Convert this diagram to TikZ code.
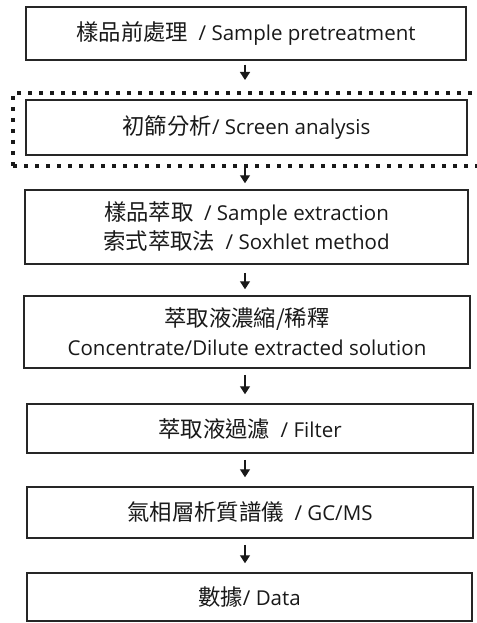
\documentclass[tikz,border=0pt]{standalone}
\usepackage{fontspec}
\setmainfont{Open Sans}
\newfontfamily\cjk[Scale=1.09]{Noto Sans CJK TC}
\usetikzlibrary{arrows.meta,calc}
\begin{document}
\begin{tikzpicture}[x=1pt,y=1pt,
  stepbox/.style={draw=black!85, line width=1.5pt, inner sep=0pt, align=center,
     font=\fontsize{20.5}{29}\selectfont, text=black!90},
  frame/.style={draw=black!90, line width=4pt, dash pattern=on 4pt off 7pt, inner sep=0pt},
  arr/.style={line width=1.4pt, draw=black!90, -{Triangle[width=10pt,length=8pt]}}]
\useasboundingbox (0,0) rectangle (476,-623);
\fill[white] (0,0) rectangle (476,-623);
\coordinate (ax) at (245,0);
\node[stepbox, minimum width=440, minimum height=53] (b1) at (246,-33.5)
  {{\cjk 樣品前處理}\ \ / Sample pretreatment};
\node[frame, minimum width=490, minimum height=73] (fr) at (258,-129.5) {};
\node[stepbox, minimum width=441, minimum height=55] (b2) at (246.5,-127.5)
  {{\cjk 初篩分析}/ Screen analysis};
\node[stepbox, minimum width=443, minimum height=74] (b3) at (246.5,-227)
  {{\cjk 樣品萃取}\ \ / Sample extraction\\{\cjk 索式萃取法}\ \ / Soxhlet method};
\node[stepbox, minimum width=446, minimum height=72] (b4) at (247,-332)
  {{\cjk 萃取液濃縮/稀釋}\\Concentrate/Dilute extracted solution};
\node[stepbox, minimum width=446, minimum height=49] (b5) at (250,-428.5)
  {{\cjk 萃取液過濾}\ \ / Filter};
\node[stepbox, minimum width=446, minimum height=51] (b6) at (250,-512.5)
  {{\cjk 氣相層析質譜儀}\ \ / GC/MS};
\node[stepbox, minimum width=445, minimum height=48] (b7) at (249.5,-597)
  {{\cjk 數據}/ Data};
\draw[arr, shorten <=4pt, shorten >=11pt] (b1.south -| ax) -- (fr.north -| ax);
\draw[arr, shorten <=0pt, shorten >=6pt] (fr.south -| ax) -- (b3.north -| ax);
\draw[arr, shorten <=8pt, shorten >=6pt] (b3.south -| ax) -- (b4.north -| ax);
\draw[arr, shorten <=6pt, shorten >=9pt] (b4.south -| ax) -- (b5.north -| ax);
\draw[arr, shorten <=6pt, shorten >=9pt] (b5.south -| ax) -- (b6.north -| ax);
\draw[arr, shorten <=6pt, shorten >=9pt] (b6.south -| ax) -- (b7.north -| ax);
\end{tikzpicture}
\end{document}
